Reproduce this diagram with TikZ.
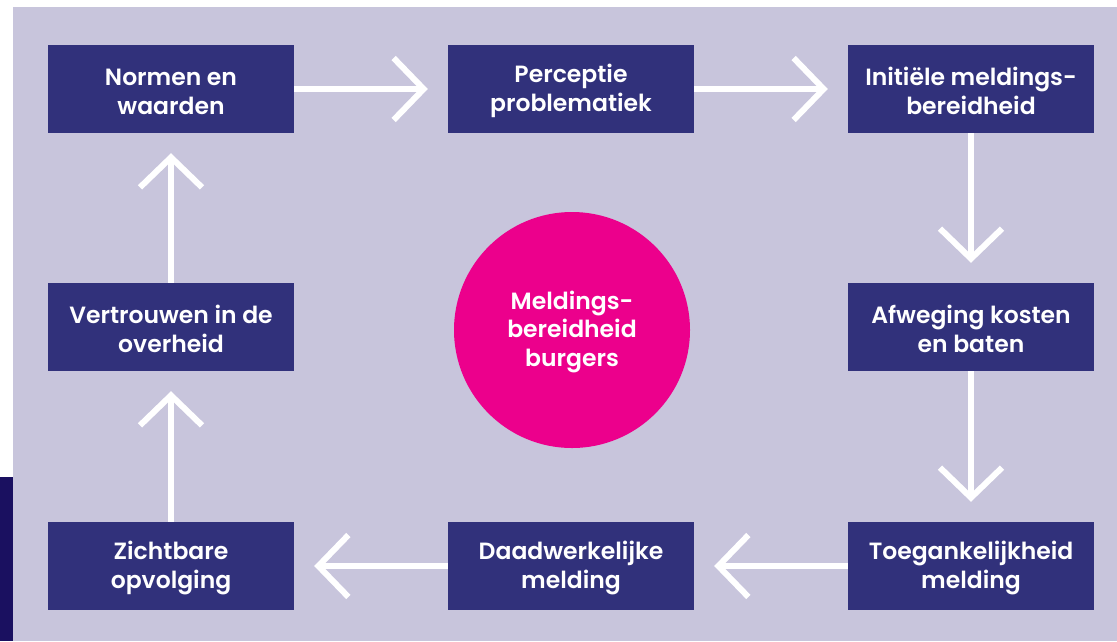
\documentclass[tikz,border=0pt]{standalone}
\usepackage{fontspec}
\setmainfont{Poppins}[UprightFont=* Medium, BoldFont=* SemiBold]
\usetikzlibrary{arrows.meta}
\definecolor{bgl}{HTML}{C8C5DC}
\definecolor{boxc}{HTML}{31317B}
\definecolor{darkc}{HTML}{1A1060}
\definecolor{pinkc}{HTML}{EC008C}
\newcommand{\dn}{\rule{0pt}{22pt}}
\tikzset{
  lbl/.style={font=\fontsize{23.5}{28.5}\selectfont\bfseries},
  stepbox/.style={fill=boxc, text=white, minimum width=246pt, minimum height=88pt,
    align=center, inner sep=0pt, lbl},
  flow/.style={draw=white, line width=6pt, -{Straight Barb[length=30pt, width=62pt, line width=6pt]}, shorten >=20pt}
}
\begin{document}
\begin{tikzpicture}[x=1pt,y=-1pt]
\useasboundingbox (0,0) rectangle (1117,641);
\fill[white] (0,0) rectangle (1117,641);
\fill[bgl] (13,7) rectangle (1117,641);
\fill[darkc] (0,477) rectangle (13,641);
\node[stepbox] (nw) at (171,89) {\dn Normen en\\waarden};
\node[stepbox] (pp) at (571,89) {\dn Perceptie\\problematiek};
\node[stepbox] (im) at (971,89) {\dn Initiële meldings-\\bereidheid};
\node[stepbox] (ak) at (971,327) {\dn Afweging kosten\\en baten};
\node[stepbox] (tm) at (971,566) {\dn Toegankelijkheid\\melding};
\node[stepbox] (dm) at (571,566) {\dn Daadwerkelijke\\melding};
\node[stepbox] (zo) at (171,566) {\dn Zichtbare\\opvolging};
\node[stepbox] (vo) at (171,327) {\dn Vertrouwen in de\\overheid};
\node[circle, fill=pinkc, text=white, minimum size=236pt, inner sep=0pt, align=center,
  lbl] (mb) at (572,330) {\dn Meldings-\\bereidheid\\burgers};
\draw[flow] (nw) -- (pp);
\draw[flow] (pp) -- (im);
\draw[flow] (im) -- (ak);
\draw[flow] (ak) -- (tm);
\draw[flow] (tm) -- (dm);
\draw[flow] (dm) -- (zo);
\draw[flow] (zo) -- (vo);
\draw[flow] (vo) -- (nw);
\end{tikzpicture}
\end{document}
